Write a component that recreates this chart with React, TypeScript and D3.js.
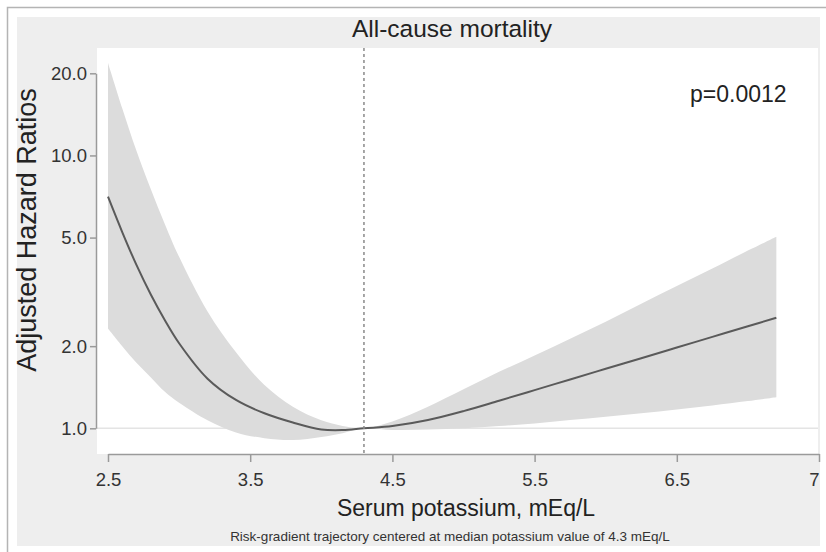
import React, { useEffect, useRef } from "react";
import * as d3 from "d3";

// Adjusted hazard ratio of all-cause mortality by serum potassium (log scale)

const potassium = [2.5, 2.6, 2.7, 2.8, 2.9, 3.0, 3.2, 3.4, 3.6, 3.8, 4.0, 4.15, 4.3, 4.5, 4.75, 5.0, 5.25, 5.5, 5.75, 6.0, 6.25, 6.5, 6.75, 7.0, 7.2];
const hazardRatio = [7.06, 5.24, 3.97, 3.1, 2.49, 2.05, 1.52, 1.27, 1.135, 1.05, 0.99, 0.985, 1.0, 1.019, 1.072, 1.156, 1.262, 1.38, 1.51, 1.652, 1.807, 1.977, 2.163, 2.366, 2.541];
const upperCI = [21.8, 14.9, 10.4, 7.55, 5.6, 4.25, 2.68, 1.9, 1.44, 1.2, 1.07, 1.02, 1.0, 1.06, 1.2, 1.39, 1.61, 1.85, 2.13, 2.46, 2.86, 3.32, 3.85, 4.48, 5.04];
const lowerCI = [2.32, 2.0, 1.74, 1.54, 1.36, 1.24, 1.07, 0.966, 0.92, 0.906, 0.93, 0.96, 1.0, 0.986, 0.989, 1.0, 1.019, 1.042, 1.072, 1.102, 1.135, 1.172, 1.213, 1.259, 1.3];

const xTicks = [2.5, 3.5, 4.5, 5.5, 6.5, 7.5];
const xTickLabels = ["2.5", "3.5", "4.5", "5.5", "6.5", "7"];
const yTicks = [1, 2, 5, 10, 20];
const yTickLabels = ["1.0", "2.0", "5.0", "10.0", "20.0"];
const medianK = 4.3;

const FONT = "'Liberation Sans', Arial, sans-serif";

const App = () => {
    const svgRef = useRef<SVGSVGElement>(null);

    useEffect(() => {
        const width = 826;
        const height = 552;
        const plot = { left: 97, right: 818, top: 48, bottom: 454 };

        const svg = d3.select(svgRef.current);
        svg.selectAll("*").remove();

        const x = d3.scaleLinear().domain([2.5, 7.5]).range([108, 819]);
        const y = d3.scaleLog().domain([1, 20]).range([428.3, 73.3]);

        const root = svg.append("g");

        // outer frame + gray graph region + white plot region
        root.append("path")
            .attr("d", `M7.5,${height} V7.5 H${width}`)
            .attr("fill", "none")
            .attr("stroke", "#b4b4b4")
            .attr("stroke-width", 1.5);
        root.append("rect")
            .attr("x", 17).attr("y", 17)
            .attr("width", 820 - 17).attr("height", 546 - 17)
            .attr("fill", "#eeeeee");
        root.append("rect")
            .attr("x", plot.left).attr("y", plot.top)
            .attr("width", plot.right - plot.left).attr("height", plot.bottom - plot.top)
            .attr("fill", "#ffffff");

        // reference line at HR = 1
        root.append("line")
            .attr("x1", plot.left).attr("x2", plot.right)
            .attr("y1", y(1)).attr("y2", y(1))
            .attr("stroke", "#e4e4e4")
            .attr("stroke-width", 1.5);

        const rows = potassium.map((k, i) => ({ k, hr: hazardRatio[i], lo: lowerCI[i], hi: upperCI[i] }));

        const area = d3.area<any>()
            .x(d => x(d.k))
            .y0(d => y(d.lo))
            .y1(d => y(d.hi))
            .curve(d3.curveCatmullRom.alpha(0.5));

        root.append("path")
            .datum(rows)
            .attr("d", area)
            .attr("fill", "#dcdcdc");

        const line = d3.line<any>()
            .x(d => x(d.k))
            .y(d => y(d.hr))
            .curve(d3.curveCatmullRom.alpha(0.5));

        root.append("path")
            .datum(rows)
            .attr("d", line)
            .attr("fill", "none")
            .attr("stroke", "#5a5a5a")
            .attr("stroke-width", 2);

        // median potassium marker
        root.append("line")
            .attr("x1", x(medianK)).attr("x2", x(medianK))
            .attr("y1", plot.top).attr("y2", plot.bottom)
            .attr("stroke", "#8a8a8a")
            .attr("stroke-width", 1.5)
            .attr("stroke-dasharray", "3,3");

        // axes
        const xAxis = root.append("g")
            .attr("transform", `translate(0,${plot.bottom})`)
            .call(d3.axisBottom(x)
                .tickValues(xTicks)
                .tickSize(8)
                .tickSizeOuter(0)
                .tickPadding(11)
                .tickFormat((d, i) => xTickLabels[i]));

        const yAxis = root.append("g")
            .attr("transform", `translate(96,0)`)
            .call(d3.axisLeft(y)
                .tickValues(yTicks)
                .tickSize(6)
                .tickSizeOuter(0)
                .tickPadding(3)
                .tickFormat((d, i) => yTickLabels[i]));

        [xAxis, yAxis].forEach(g => {
            g.select(".domain").attr("stroke", "#9a9a9a").attr("stroke-width", 1.5);
            g.selectAll(".tick line").attr("stroke", "#9a9a9a").attr("stroke-width", 1.5);
            g.selectAll(".tick text")
                .attr("fill", "#333")
                .attr("font-family", FONT)
                .attr("font-size", 18.5);
        });
        // last label sits at the cropped right edge
        xAxis.selectAll(".tick text").filter((d: any) => d === 7.5).attr("dx", -5);

        // titles
        root.append("text")
            .attr("x", 452).attr("y", 37)
            .attr("text-anchor", "middle")
            .attr("font-family", FONT)
            .attr("font-size", 24.5)
            .attr("fill", "#222")
            .text("All-cause mortality");

        root.append("text")
            .attr("x", 466).attr("y", 516)
            .attr("text-anchor", "middle")
            .attr("font-family", FONT)
            .attr("font-size", 23)
            .attr("fill", "#222")
            .text("Serum potassium, mEq/L");

        root.append("text")
            .attr("transform", "translate(36,230) rotate(-90)")
            .attr("text-anchor", "middle")
            .attr("font-family", FONT)
            .attr("font-size", 27)
            .attr("fill", "#222")
            .text("Adjusted Hazard Ratios");

        root.append("text")
            .attr("x", 450).attr("y", 541)
            .attr("text-anchor", "middle")
            .attr("font-family", FONT)
            .attr("font-size", 13.5)
            .attr("fill", "#333")
            .text("Risk-gradient trajectory centered at median potassium value of 4.3 mEq/L");

        root.append("text")
            .attr("x", 690).attr("y", 102)
            .attr("font-family", FONT)
            .attr("font-size", 23)
            .attr("fill", "#222")
            .text("p=0.0012");
    }, []);

    return (
        <svg
            ref={svgRef}
            width={826}
            height={552}
            style={{ position: "absolute", left: 0, top: 0, background: "#fff" }}
        ></svg>
    );
};

export default App;
